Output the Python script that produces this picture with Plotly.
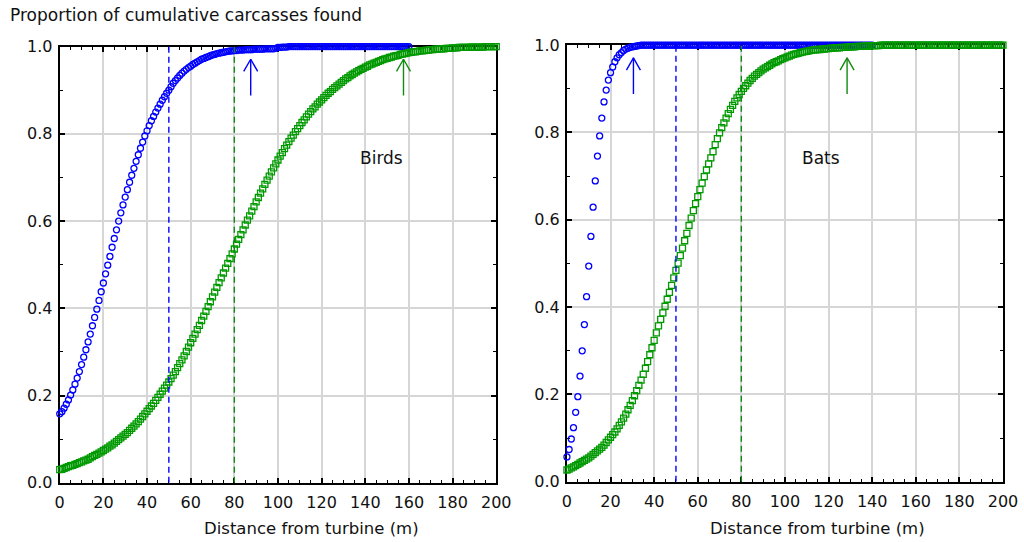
import plotly.graph_objects as go

# Distance from turbine (m), one value per metre
dist_birds_blue = list(range(0, 161))
dist_birds_green = list(range(0, 201))
dist_bats_blue = list(range(0, 141))
dist_bats_green = list(range(0, 201))

# Cumulative proportion of carcasses found - birds
birds_blue = [
    0.158, 0.163, 0.171, 0.180, 0.190, 0.201, 0.213, 0.226, 0.240, 0.255,
    0.271, 0.288, 0.305, 0.323, 0.341, 0.360, 0.379, 0.398, 0.418, 0.438,
    0.458, 0.479, 0.499, 0.519, 0.540, 0.560, 0.580, 0.600, 0.619, 0.637,
    0.655, 0.672, 0.689, 0.705, 0.721, 0.737, 0.752, 0.767, 0.781, 0.795,
    0.807, 0.819, 0.830, 0.840, 0.850, 0.859, 0.868, 0.877, 0.885, 0.893,
    0.900, 0.908, 0.916, 0.922, 0.928, 0.934, 0.939, 0.944, 0.948, 0.952,
    0.955, 0.959, 0.962, 0.965, 0.968, 0.971, 0.973, 0.975, 0.977, 0.979,
    0.981, 0.982, 0.984, 0.985, 0.986, 0.987, 0.988, 0.989, 0.990, 0.990,
    0.991, 0.991, 0.992, 0.992, 0.992, 0.993, 0.993, 0.993, 0.993, 0.994,
    0.994, 0.994, 0.994, 0.994, 0.995, 0.995, 0.995, 0.995, 0.995, 0.996,
    0.998, 0.998, 0.999, 0.999, 0.999, 1.000, 1.000, 1.000, 1.000, 1.000,
    1.000, 1.000, 1.000, 1.000, 1.000, 1.000, 1.000, 1.000, 1.000, 1.000,
    1.000, 1.000, 1.000, 1.000, 1.000, 1.000, 1.000, 1.000, 1.000, 1.000,
    1.000, 1.000, 1.000, 1.000, 1.000, 1.000, 1.000, 1.000, 1.000, 1.000,
    1.000, 1.000, 1.000, 1.000, 1.000, 1.000, 1.000, 1.000, 1.000, 1.000,
    1.000, 1.000, 1.000, 1.000, 1.000, 1.000, 1.000, 1.000, 1.000, 1.000,
    1.000,
]
birds_green = [
    0.030, 0.031, 0.033, 0.035, 0.037, 0.039, 0.040, 0.042, 0.044, 0.046,
    0.048, 0.050, 0.052, 0.054, 0.057, 0.060, 0.063, 0.065, 0.068, 0.071,
    0.074, 0.077, 0.080, 0.084, 0.087, 0.091, 0.095, 0.099, 0.103, 0.107,
    0.111, 0.115, 0.120, 0.125, 0.130, 0.135, 0.140, 0.146, 0.152, 0.158,
    0.164, 0.170, 0.176, 0.182, 0.189, 0.196, 0.203, 0.210, 0.217, 0.224,
    0.231, 0.239, 0.247, 0.255, 0.264, 0.273, 0.282, 0.291, 0.301, 0.311,
    0.321, 0.331, 0.341, 0.351, 0.361, 0.372, 0.382, 0.393, 0.404, 0.415,
    0.426, 0.437, 0.448, 0.459, 0.470, 0.481, 0.492, 0.503, 0.514, 0.525,
    0.536, 0.547, 0.558, 0.569, 0.580, 0.591, 0.602, 0.612, 0.623, 0.633,
    0.644, 0.654, 0.664, 0.674, 0.684, 0.694, 0.703, 0.713, 0.722, 0.731,
    0.740, 0.749, 0.757, 0.766, 0.774, 0.782, 0.790, 0.797, 0.805, 0.812,
    0.819, 0.826, 0.832, 0.839, 0.845, 0.851, 0.857, 0.862, 0.868, 0.873,
    0.878, 0.883, 0.888, 0.893, 0.897, 0.902, 0.906, 0.910, 0.914, 0.918,
    0.922, 0.926, 0.929, 0.933, 0.936, 0.939, 0.942, 0.945, 0.948, 0.950,
    0.953, 0.955, 0.958, 0.960, 0.962, 0.964, 0.966, 0.968, 0.970, 0.972,
    0.973, 0.975, 0.976, 0.978, 0.979, 0.980, 0.982, 0.983, 0.984, 0.985,
    0.986, 0.987, 0.988, 0.988, 0.989, 0.990, 0.990, 0.991, 0.992, 0.992,
    0.993, 0.993, 0.994, 0.994, 0.995, 0.995, 0.995, 0.996, 0.996, 0.996,
    0.997, 0.997, 0.997, 0.998, 0.998, 0.998, 0.998, 0.998, 0.999, 0.999,
    0.999, 0.999, 0.999, 0.999, 0.999, 1.000, 1.000, 1.000, 1.000, 1.000,
    1.000,
]

# Cumulative proportion of carcasses found - bats
bats_blue = [
    0.057, 0.074, 0.098, 0.124, 0.159, 0.195, 0.242, 0.300, 0.360, 0.424,
    0.494, 0.562, 0.629, 0.689, 0.746, 0.792, 0.833, 0.870, 0.897, 0.920,
    0.937, 0.950, 0.962, 0.971, 0.978, 0.983, 0.988, 0.991, 0.993, 0.995,
    0.996, 0.997, 0.998, 0.999, 1.000, 1.000, 1.000, 1.000, 1.000, 1.000,
    1.000, 1.000, 1.000, 1.000, 1.000, 1.000, 1.000, 1.000, 1.000, 1.000,
    1.000, 1.000, 1.000, 1.000, 1.000, 1.000, 1.000, 1.000, 1.000, 1.000,
    1.000, 1.000, 1.000, 1.000, 1.000, 1.000, 1.000, 1.000, 1.000, 1.000,
    1.000, 1.000, 1.000, 1.000, 1.000, 1.000, 1.000, 1.000, 1.000, 1.000,
    1.000, 1.000, 1.000, 1.000, 1.000, 1.000, 1.000, 1.000, 1.000, 1.000,
    1.000, 1.000, 1.000, 1.000, 1.000, 1.000, 1.000, 1.000, 1.000, 1.000,
    1.000, 1.000, 1.000, 1.000, 1.000, 1.000, 1.000, 1.000, 1.000, 1.000,
    1.000, 1.000, 1.000, 1.000, 1.000, 1.000, 1.000, 1.000, 1.000, 1.000,
    1.000, 1.000, 1.000, 1.000, 1.000, 1.000, 1.000, 1.000, 1.000, 1.000,
    1.000, 1.000, 1.000, 1.000, 1.000, 1.000, 1.000, 1.000, 1.000, 1.000,
    1.000,
]
bats_green = [
    0.027, 0.029, 0.032, 0.034, 0.037, 0.040, 0.043, 0.046, 0.049, 0.052,
    0.055, 0.059, 0.063, 0.067, 0.071, 0.075, 0.079, 0.084, 0.090, 0.096,
    0.102, 0.108, 0.114, 0.121, 0.129, 0.137, 0.146, 0.155, 0.165, 0.175,
    0.186, 0.197, 0.209, 0.221, 0.233, 0.246, 0.260, 0.275, 0.291, 0.307,
    0.324, 0.341, 0.357, 0.372, 0.387, 0.402, 0.418, 0.434, 0.450, 0.467,
    0.484, 0.501, 0.518, 0.535, 0.552, 0.569, 0.587, 0.604, 0.621, 0.637,
    0.653, 0.669, 0.684, 0.699, 0.714, 0.728, 0.742, 0.756, 0.772, 0.786,
    0.799, 0.811, 0.822, 0.833, 0.843, 0.853, 0.862, 0.871, 0.879, 0.887,
    0.894, 0.901, 0.907, 0.913, 0.919, 0.924, 0.929, 0.933, 0.937, 0.941,
    0.945, 0.948, 0.951, 0.954, 0.957, 0.960, 0.962, 0.964, 0.967, 0.969,
    0.971, 0.973, 0.975, 0.977, 0.979, 0.980, 0.981, 0.983, 0.984, 0.985,
    0.986, 0.987, 0.988, 0.989, 0.989, 0.990, 0.990, 0.991, 0.991, 0.992,
    0.992, 0.993, 0.993, 0.994, 0.994, 0.994, 0.995, 0.995, 0.995, 0.996,
    0.996, 0.996, 0.996, 0.997, 0.997, 0.997, 0.997, 0.998, 0.998, 0.998,
    0.999, 0.999, 0.999, 0.999, 1.000, 1.000, 1.000, 1.000, 1.000, 1.000,
    1.000, 1.000, 1.000, 1.000, 1.000, 1.000, 1.000, 1.000, 1.000, 1.000,
    1.000, 1.000, 1.000, 1.000, 1.000, 1.000, 1.000, 1.000, 1.000, 1.000,
    1.000, 1.000, 1.000, 1.000, 1.000, 1.000, 1.000, 1.000, 1.000, 1.000,
    1.000, 1.000, 1.000, 1.000, 1.000, 1.000, 1.000, 1.000, 1.000, 1.000,
    1.000, 1.000, 1.000, 1.000, 1.000, 1.000, 1.000, 1.000, 1.000, 1.000,
    1.000,
]

# Reference distances (dashed lines) and arrow positions, per panel
ref_lines_blue = [50, 50]      # birds, bats
ref_lines_green = [80, 80]
arrow_blue = [87.5, 30.5]
arrow_green = [157.5, 128.5]
arrow_tail, arrow_tip = 0.888, 0.971
panel_labels = ["Birds", "Bats"]
panel_label_pos = [(147.5, 0.745), (116.7, 0.742)]

x_ticks = [0, 20, 40, 60, 80, 100, 120, 140, 160, 180, 200]
y_ticks = [0.0, 0.2, 0.4, 0.6, 0.8, 1.0]
y_tick_text = ["0.0", "0.2", "0.4", "0.6", "0.8", "1.0"]

BLUE = "#0000ff"
GREEN = "#009900"
GREEN_DARK = "#118a11"
FONT = "DejaVu Sans"

fig = go.Figure()


def add_panel(idx, xb, yb, xg, yg, xref_b, xref_g, ax_b, ax_g, label, label_pos):
    xa = "x" if idx == 0 else "x2"
    ya = "y" if idx == 0 else "y2"
    fig.add_trace(go.Scatter(
        x=xb, y=yb, mode="markers", xaxis=xa, yaxis=ya, cliponaxis=False,
        marker=dict(symbol="circle-open", size=6, color=BLUE,
                    line=dict(width=1.3, color=BLUE)),
        showlegend=False, hoverinfo="skip"))
    fig.add_trace(go.Scatter(
        x=xg, y=yg, mode="markers", xaxis=xa, yaxis=ya, cliponaxis=False,
        marker=dict(symbol="square-open", size=6, color=GREEN,
                    line=dict(width=1.3, color=GREEN)),
        showlegend=False, hoverinfo="skip"))
    # dashed reference distances
    for xv, col in ((xref_b, BLUE), (xref_g, GREEN_DARK)):
        fig.add_trace(go.Scatter(
            x=[xv, xv], y=[0, 1], mode="lines", xaxis=xa, yaxis=ya,
            line=dict(color=col, width=1.4, dash="6px,4px"),
            showlegend=False, hoverinfo="skip"))
    # open arrows
    head_w, head_h = 3.2, 0.028
    for xv, col in ((ax_b, BLUE), (ax_g, GREEN_DARK)):
        fig.add_trace(go.Scatter(
            x=[xv, xv, None, xv - head_w, xv, xv + head_w],
            y=[arrow_tail, arrow_tip, None, arrow_tip - head_h, arrow_tip,
               arrow_tip - head_h],
            mode="lines", xaxis=xa, yaxis=ya, cliponaxis=False,
            line=dict(color=col, width=1.4),
            showlegend=False, hoverinfo="skip"))
    fig.add_annotation(x=label_pos[0], y=label_pos[1], xref=xa, yref=ya,
                       text=label, showarrow=False,
                       font=dict(family=FONT, size=17, color="#111"))


add_panel(0, dist_birds_blue, birds_blue, dist_birds_green, birds_green,
          ref_lines_blue[0], ref_lines_green[0], arrow_blue[0], arrow_green[0],
          panel_labels[0], panel_label_pos[0])
add_panel(1, dist_bats_blue, bats_blue, dist_bats_green, bats_green,
          ref_lines_blue[1], ref_lines_green[1], arrow_blue[1], arrow_green[1],
          panel_labels[1], panel_label_pos[1])

axis_common = dict(
    showline=True, linecolor="black", linewidth=2, mirror="allticks",
    ticks="inside", ticklen=5, tickwidth=1.5, tickcolor="black",
    showgrid=True, gridcolor="#d6d6d6", gridwidth=1.5, zeroline=False,
    tickfont=dict(family=FONT, size=16, color="#111"),
    layer="below traces", fixedrange=True,
)
xcommon = dict(axis_common, range=[0, 200], tickvals=x_ticks,
               minor=dict(dtick=5, ticks="inside", ticklen=3, tickwidth=1.2,
                          tickcolor="black", showgrid=False),
               ticklabelstandoff=4)
ycommon = dict(axis_common, range=[0, 1], tickvals=y_ticks, ticktext=y_tick_text,
               minor=dict(dtick=0.1, ticks="inside", ticklen=3, tickwidth=1.2,
                          tickcolor="black", showgrid=False),
               ticklabelstandoff=2)

fig.update_layout(
    width=1024, height=542,
    margin=dict(l=0, r=0, t=0, b=0),
    paper_bgcolor="white", plot_bgcolor="white",
    xaxis=dict(xcommon, domain=[0.0545, 0.4893], anchor="y"),
    yaxis=dict(ycommon, domain=[0.0941, 0.9281], anchor="x"),
    xaxis2=dict(xcommon, domain=[0.5597, 0.9940], anchor="y2"),
    yaxis2=dict(ycommon, domain=[0.0960, 0.9309], anchor="x2"),
    showlegend=False,
)

fig.add_annotation(x=0.003, y=0.988, xref="paper", yref="paper",
                   xanchor="left", yanchor="middle", showarrow=False,
                   text="Proportion of cumulative carcasses found",
                   font=dict(family=FONT, size=17, color="#111"))
for cx in (0.3048, 0.8095):
    fig.add_annotation(x=cx, y=0.0076, xref="paper", yref="paper",
                       xanchor="center", yanchor="middle", showarrow=False,
                       text="Distance from turbine (m)",
                       font=dict(family=FONT, size=16.5, color="#111"))

fig.write_html("out.html")
